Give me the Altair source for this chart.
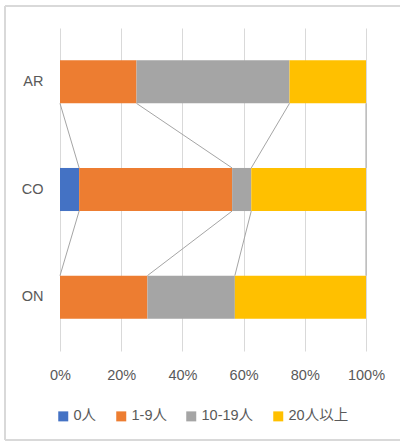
import altair as alt
import pandas as pd
import numpy as np

categories = ["AR", "CO", "ON"]
series = ["0人", "1-9人", "10-19人", "20人以上"]
colors = ["#4472C4", "#ED7D31", "#A5A5A5", "#FFC000"]
ar_vals = [0, 25, 50, 25]
co_vals = [6.25, 50, 6.25, 37.5]
on_vals = [0, 28.57, 28.57, 42.86]
x_ticks = [0, 0.2, 0.4, 0.6, 0.8, 1.0]

values = {"AR": ar_vals, "CO": co_vals, "ON": on_vals}

rows = []
for c in categories:
    for i, s in enumerate(series):
        rows.append({"cat": c, "series": s, "idx": i, "value": values[c][i]})
df = pd.DataFrame(rows)

# series lines (connect cumulative ends between adjacent bars)
cum = {c: np.cumsum(values[c]) / np.sum(values[c]) for c in categories}
lrows = []
for a, b in zip(categories[:-1], categories[1:]):
    for i, s in enumerate(series):
        lrows.append({"upper": a, "lower": b, "x1": cum[a][i], "x2": cum[b][i], "series": s})
ldf = pd.DataFrame(lrows)

yscale = alt.Scale(domain=categories, paddingInner=0.6, paddingOuter=0.3)
xscale = alt.Scale(domain=[0, 1])

bars = alt.Chart(df).mark_bar(strokeWidth=0).encode(
    x=alt.X("value:Q", stack="normalize", scale=xscale,
            axis=alt.Axis(format=".0%", values=x_ticks, title=None, labelFlush=False)),
    y=alt.Y("cat:N", sort=categories, scale=yscale, axis=alt.Axis(title=None)),
    color=alt.Color("series:N", scale=alt.Scale(domain=series, range=colors),
                    legend=alt.Legend(title=None, orient="none", direction="horizontal",
                                      legendX=-4, legendY=381,
                                      symbolType="square", symbolSize=100,
                                      symbolStrokeWidth=0, labelFontSize=14.5,
                                      labelColor="#595959", labelOffset=3,
                                      columnPadding=17,
                                      labelFont="Liberation Sans, Noto Sans CJK JP")),
    order=alt.Order("idx:Q"),
)

lines = alt.Chart(ldf).mark_rule(color="#A5A5A5", strokeWidth=1).encode(
    x=alt.X("x1:Q", scale=xscale),
    x2="x2:Q",
    y=alt.Y("upper:N", sort=categories, scale=yscale, bandPosition=1),
    y2=alt.Y2("lower:N", bandPosition=0),
)

frame_df = pd.DataFrame({"k": [0]})
frame_left = alt.Chart(frame_df).mark_rule(color="#D9D9D9", strokeWidth=2).encode(
    x=alt.value(-55), y=alt.value(-22), y2=alt.value(412))
frame_top = alt.Chart(frame_df).mark_rule(color="#D9D9D9", strokeWidth=2).encode(
    x=alt.value(-55), x2=alt.value(345), y=alt.value(-22))
frame_bottom = alt.Chart(frame_df).mark_rule(color="#D9D9D9", strokeWidth=2).encode(
    x=alt.value(-55), x2=alt.value(345), y=alt.value(412))

chart = alt.layer(frame_left, frame_top, frame_bottom, bars, lines).properties(
    width=306, height=323,
    autosize=alt.AutoSizeParams(type="none"),
    padding={"left": 60, "top": 28, "right": 34, "bottom": 91},
    background="white",
).configure_view(stroke=None).configure_axis(
    labelFont="Liberation Sans, Noto Sans CJK JP",
    labelFontSize=14.5,
    labelColor="#595959",
    domain=False,
    ticks=False,
).configure_axisX(
    grid=True, gridColor="#D9D9D9", gridWidth=1, labelPadding=17,
).configure_axisY(
    grid=False, labelPadding=17,
)

chart.save("out.html", embed_options={"renderer": "svg", "actions": False})
